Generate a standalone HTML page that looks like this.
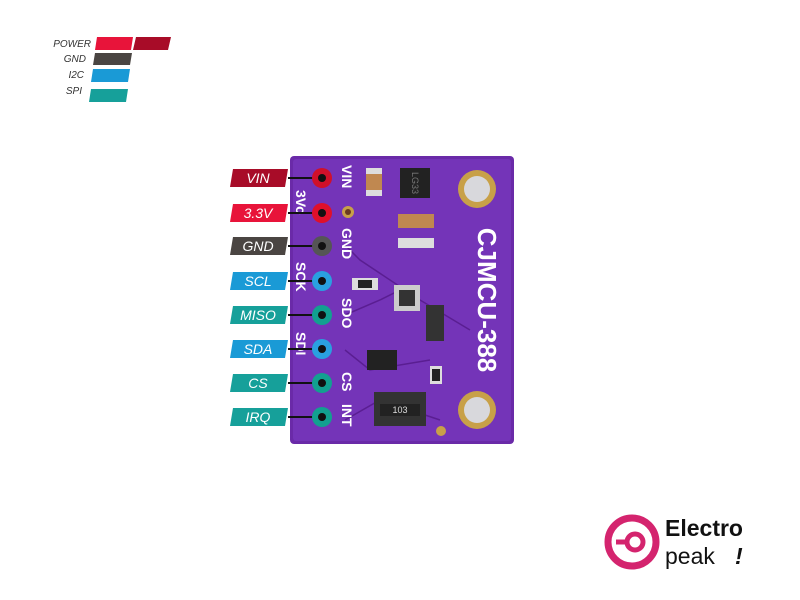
<!DOCTYPE html>
<html><head><meta charset="utf-8"><style>
html,body{margin:0;padding:0;background:#fff;width:800px;height:600px;overflow:hidden}
svg{display:block}
text{font-family:"Liberation Sans",sans-serif}
</style></head><body>
<svg width="800" height="600" viewBox="0 0 800 600">
<g font-size="10" font-style="italic" fill="#333" text-anchor="end">
<text x="91" y="47">POWER</text><text x="86" y="62">GND</text><text x="84" y="78">I2C</text><text x="82" y="94">SPI</text>
</g>
<polygon points="97,37 133,37 131,50 95,50" fill="#e8143a"/>
<polygon points="136,37 171,37 168,50 133,50" fill="#a80c28"/>
<polygon points="95,53 132,53 130,65 93,65" fill="#4a4542"/>
<polygon points="93,69 130,69 128,82 91,82" fill="#1a9ad6"/>
<polygon points="91,89 128,89 126,102 89,102" fill="#16a09a"/>
<rect x="290" y="156" width="224" height="288" rx="4" fill="#6a2aa8"/>
<rect x="293" y="159" width="218" height="282" rx="3" fill="#7434b8"/>
<g stroke="#5a1e92" stroke-width="1.5" fill="none">
<path d="M345,245 L360,260 L420,300"/><path d="M345,315 L380,300 L400,290"/><path d="M345,350 L370,370 L430,360"/><path d="M345,420 L380,400 L440,420"/><path d="M420,300 L470,330"/>
</g>
<circle cx="477" cy="189" r="19" fill="#c8a048"/><circle cx="477" cy="189" r="13" fill="#d8d8dc"/>
<circle cx="477" cy="410" r="19" fill="#c8a048"/><circle cx="477" cy="410" r="13" fill="#d8d8dc"/>
<circle cx="348" cy="212" r="6" fill="#c8a048"/><circle cx="348" cy="212" r="3" fill="#6a3a20"/>
<circle cx="441" cy="431" r="5" fill="#c8a048"/>
<rect x="366" y="168" width="16" height="28" fill="#c08850"/><rect x="366" y="168" width="16" height="6" fill="#ddd"/><rect x="366" y="190" width="16" height="6" fill="#ddd"/>
<rect x="400" y="168" width="30" height="30" fill="#222"/><text x="415" y="186" fill="#777" font-size="9" transform="rotate(90 415 183)" text-anchor="middle">LG33</text>
<rect x="398" y="214" width="36" height="14" fill="#c08850"/>
<rect x="398" y="238" width="36" height="10" fill="#ddd"/>
<rect x="352" y="278" width="26" height="12" fill="#ddd"/><rect x="358" y="280" width="14" height="8" fill="#222"/>
<rect x="394" y="285" width="26" height="26" fill="#ccc"/><rect x="399" y="290" width="16" height="16" fill="#333"/>
<rect x="426" y="305" width="18" height="36" fill="#333"/>
<rect x="367" y="350" width="30" height="20" fill="#222"/>
<rect x="430" y="366" width="12" height="18" fill="#ddd"/><rect x="432" y="369" width="8" height="12" fill="#222"/>
<rect x="374" y="392" width="52" height="34" fill="#333"/><rect x="380" y="404" width="40" height="12" fill="#222"/><text x="400" y="413" fill="#ddd" font-size="9" text-anchor="middle">103</text>
<text x="478" y="300" fill="#fff" font-size="26" font-weight="bold" transform="rotate(90 478 300)" text-anchor="middle">CJMCU-388</text>
<g fill="#fff" font-size="14" font-weight="bold">
<text transform="translate(342,165) rotate(90)">VIN</text>
<text transform="translate(296,190) rotate(90)">3Vo</text>
<text transform="translate(342,228) rotate(90)">GND</text>
<text transform="translate(296,262) rotate(90)">SCK</text>
<text transform="translate(342,298) rotate(90)">SDO</text>
<text transform="translate(296,332) rotate(90)">SDI</text>
<text transform="translate(342,372) rotate(90)">CS</text>
<text transform="translate(342,404) rotate(90)">INT</text>
</g>
<g stroke="#111" stroke-width="2">
<line x1="288" y1="178" x2="322" y2="178"/><line x1="288" y1="213" x2="322" y2="213"/><line x1="288" y1="246" x2="322" y2="246"/><line x1="288" y1="281" x2="322" y2="281"/><line x1="288" y1="315" x2="322" y2="315"/><line x1="288" y1="349" x2="322" y2="349"/><line x1="288" y1="383" x2="322" y2="383"/><line x1="288" y1="417" x2="322" y2="417"/>
</g>
<g>
<circle cx="322" cy="178" r="10" fill="#d0102a"/><circle cx="322" cy="178" r="4" fill="#111"/>
<circle cx="322" cy="213" r="10" fill="#e0102a"/><circle cx="322" cy="213" r="4" fill="#111"/>
<circle cx="322" cy="246" r="10" fill="#555"/><circle cx="322" cy="246" r="4" fill="#111"/>
<circle cx="322" cy="281" r="10" fill="#2aa0e0"/><circle cx="322" cy="281" r="4" fill="#111"/>
<circle cx="322" cy="315" r="10" fill="#12a090"/><circle cx="322" cy="315" r="4" fill="#111"/>
<circle cx="322" cy="349" r="10" fill="#2aa0e0"/><circle cx="322" cy="349" r="4" fill="#111"/>
<circle cx="322" cy="383" r="10" fill="#12a090"/><circle cx="322" cy="383" r="4" fill="#111"/>
<circle cx="322" cy="417" r="10" fill="#12a090"/><circle cx="322" cy="417" r="4" fill="#111"/>
</g>
<g font-size="14" font-style="italic" fill="#fff" text-anchor="middle">
<polygon points="233,169 288,169 285,187 230,187" fill="#a80c28"/><text x="258" y="183">VIN</text>
<polygon points="233,204 288,204 285,222 230,222" fill="#e8143a"/><text x="258" y="218">3.3V</text>
<polygon points="233,237 288,237 285,255 230,255" fill="#4a4542"/><text x="258" y="251">GND</text>
<polygon points="233,272 288,272 285,290 230,290" fill="#1a9ad6"/><text x="258" y="286">SCL</text>
<polygon points="233,306 288,306 285,324 230,324" fill="#16a09a"/><text x="258" y="320">MISO</text>
<polygon points="233,340 288,340 285,358 230,358" fill="#1a9ad6"/><text x="258" y="354">SDA</text>
<polygon points="233,374 288,374 285,392 230,392" fill="#16a09a"/><text x="258" y="388">CS</text>
<polygon points="233,408 288,408 285,426 230,426" fill="#16a09a"/><text x="258" y="422">IRQ</text>
</g>
<circle cx="632" cy="542" r="24" fill="none" stroke="#d4246e" stroke-width="7"/>
<circle cx="635" cy="542" r="8" fill="none" stroke="#d4246e" stroke-width="5"/>
<line x1="616" y1="542" x2="628" y2="542" stroke="#d4246e" stroke-width="5"/>
<text x="665" y="536" font-size="23" font-weight="bold" fill="#111">Electro</text>
<text x="665" y="564" font-size="23" fill="#111">peak</text>
<text x="735" y="564" font-size="23" font-weight="bold" font-style="italic" fill="#111">!</text>
</svg>
</body></html>
